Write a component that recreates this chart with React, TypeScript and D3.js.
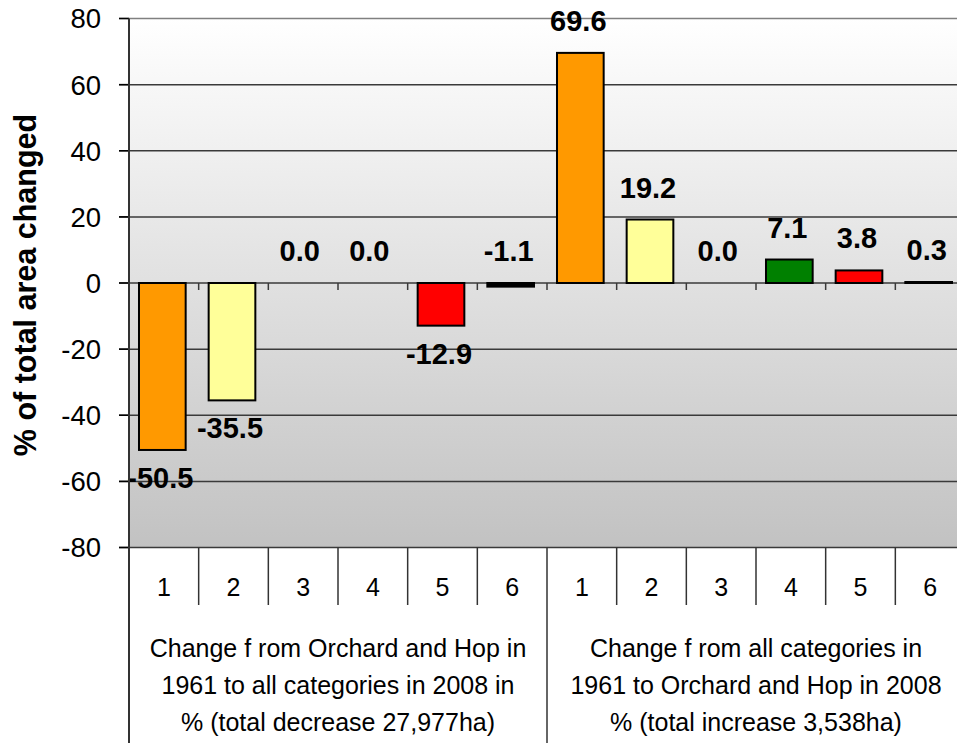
import React from "react";
import * as d3 from "d3";

const categories = ["1", "2", "3", "4", "5", "6"];
const decreaseValues = [-50.5, -35.5, 0.0, 0.0, -12.9, -1.1];
const increaseValues = [69.6, 19.2, 0.0, 7.1, 3.8, 0.3];
const categoryColors = ["#FF9900", "#FFFF99", "#999999", "#008000", "#FF0000", "#000000"];
const groupLabels = [
  ["Change f rom Orchard and Hop in", "1961 to all categories in 2008 in", "% (total decrease 27,977ha)"],
  ["Change f rom all categories in", "1961 to Orchard and Hop in 2008", "% (total increase 3,538ha)"],
];
const yTicks = [80, 60, 40, 20, 0, -20, -40, -60, -80];
const yTitle = "% of total area changed";

const W = 957;
const H = 743;
const left = 129;
const right = 965;
const top = 18.5;
const bottom = 547.5;
const font = "Liberation Sans, Arial, sans-serif";

export default function App() {
  const points = [
    ...decreaseValues.map((v, i) => ({ key: `a${i}`, cat: categories[i], ci: i, v })),
    ...increaseValues.map((v, i) => ({ key: `b${i}`, cat: categories[i], ci: i, v })),
  ];
  const x = d3
    .scaleBand<string>()
    .domain(points.map((p) => p.key))
    .range([left, right])
    .paddingInner(0.33)
    .paddingOuter(0.165);
  const step = x.step();
  const y = d3.scaleLinear().domain([-80, 80]).range([bottom, top]);
  const y0 = y(0);
  const groupW = step * 6;

  return (
    <svg
      width={W}
      height={H}
      style={{ position: "absolute", left: 0, top: 0, background: "#fff" }}
      fontFamily={font}
    >
      <defs>
        <linearGradient id="bg" x1="0" y1="0" x2="0" y2="1">
          <stop offset="0%" stopColor="#ffffff" />
          <stop offset="100%" stopColor="#c2c2c2" />
        </linearGradient>
      </defs>
      <rect x={left} y={top} width={right - left} height={bottom - top} fill="url(#bg)" />
      {yTicks.map((t) => (
        <g key={t}>
          <line
            x1={left - 10}
            x2={right}
            y1={y(t)}
            y2={y(t)}
            stroke={t === 80 ? "#808080" : "#3a3a3a"}
            strokeWidth={1.5}
          />
          <line x1={left - 10} x2={left} y1={y(t)} y2={y(t)} stroke="#000" strokeWidth={1.5} />
          <text x={101} y={y(t)} dy="0.36em" textAnchor="end" fontSize={27.5} fill="#000">
            {t}
          </text>
        </g>
      ))}
      {d3.range(1, 12).map((i) => (
        <line
          key={i}
          x1={left + i * step}
          x2={left + i * step}
          y1={y0}
          y2={y0 + 7}
          stroke="#3a3a3a"
          strokeWidth={1.5}
        />
      ))}
      {points.map((p) => {
        const bx = (x(p.key) as number) - 1.5;
        const bw = x.bandwidth();
        const yt = y(Math.max(0, p.v));
        const yb = y(Math.min(0, p.v));
        const h = Math.max(yb - yt, 0);
        const cx = bx + bw / 2 - 2;
        const label = p.v.toFixed(1);
        const above = p.v >= 0 || p.v > -2;
        return (
          <g key={p.key}>
            {p.v !== 0 && (
              <rect
                x={bx}
                y={yt}
                width={bw}
                height={h}
                fill={categoryColors[p.ci]}
                stroke="#000"
                strokeWidth={2}
              />
            )}
            <text
              x={cx}
              y={above ? yt - 22 : yb + 38}
              textAnchor="middle"
              fontSize={29}
              fontWeight="bold"
              fill="#000"
            >
              {label}
            </text>
          </g>
        );
      })}
      <line x1={left} x2={left} y1={top} y2={H} stroke="#333" strokeWidth={2} />
      {points.map((p, i) => (
        <g key={"c" + p.key}>
          <text
            x={left + (i + 0.5) * step}
            y={587}
            dy="0.36em"
            textAnchor="middle"
            fontSize={25}
            fill="#000"
          >
            {p.cat}
          </text>
          {i > 0 && i !== 6 && (
            <line
              x1={left + i * step}
              x2={left + i * step}
              y1={bottom}
              y2={605}
              stroke="#333"
              strokeWidth={1.5}
            />
          )}
        </g>
      ))}
      {[1, 2].map((g) => (
        <line
          key={g}
          x1={left + g * groupW}
          x2={left + g * groupW}
          y1={bottom}
          y2={H}
          stroke="#333"
          strokeWidth={1.5}
        />
      ))}
      {groupLabels.map((lines, g) =>
        lines.map((ln, j) => (
          <text
            key={`${g}-${j}`}
            x={left + (g + 0.5) * groupW}
            y={648 + j * 37}
            dy="0.36em"
            textAnchor="middle"
            fontSize={25}
            fill="#000"
          >
            {ln}
          </text>
        ))
      )}
      <text
        transform={`translate(25,${(top + bottom) / 2 + 2}) rotate(-90)`}
        textAnchor="middle"
        dy="0.36em"
        fontSize={30.5}
        fontWeight="bold"
        fill="#000"
      >
        {yTitle}
      </text>
    </svg>
  );
}
